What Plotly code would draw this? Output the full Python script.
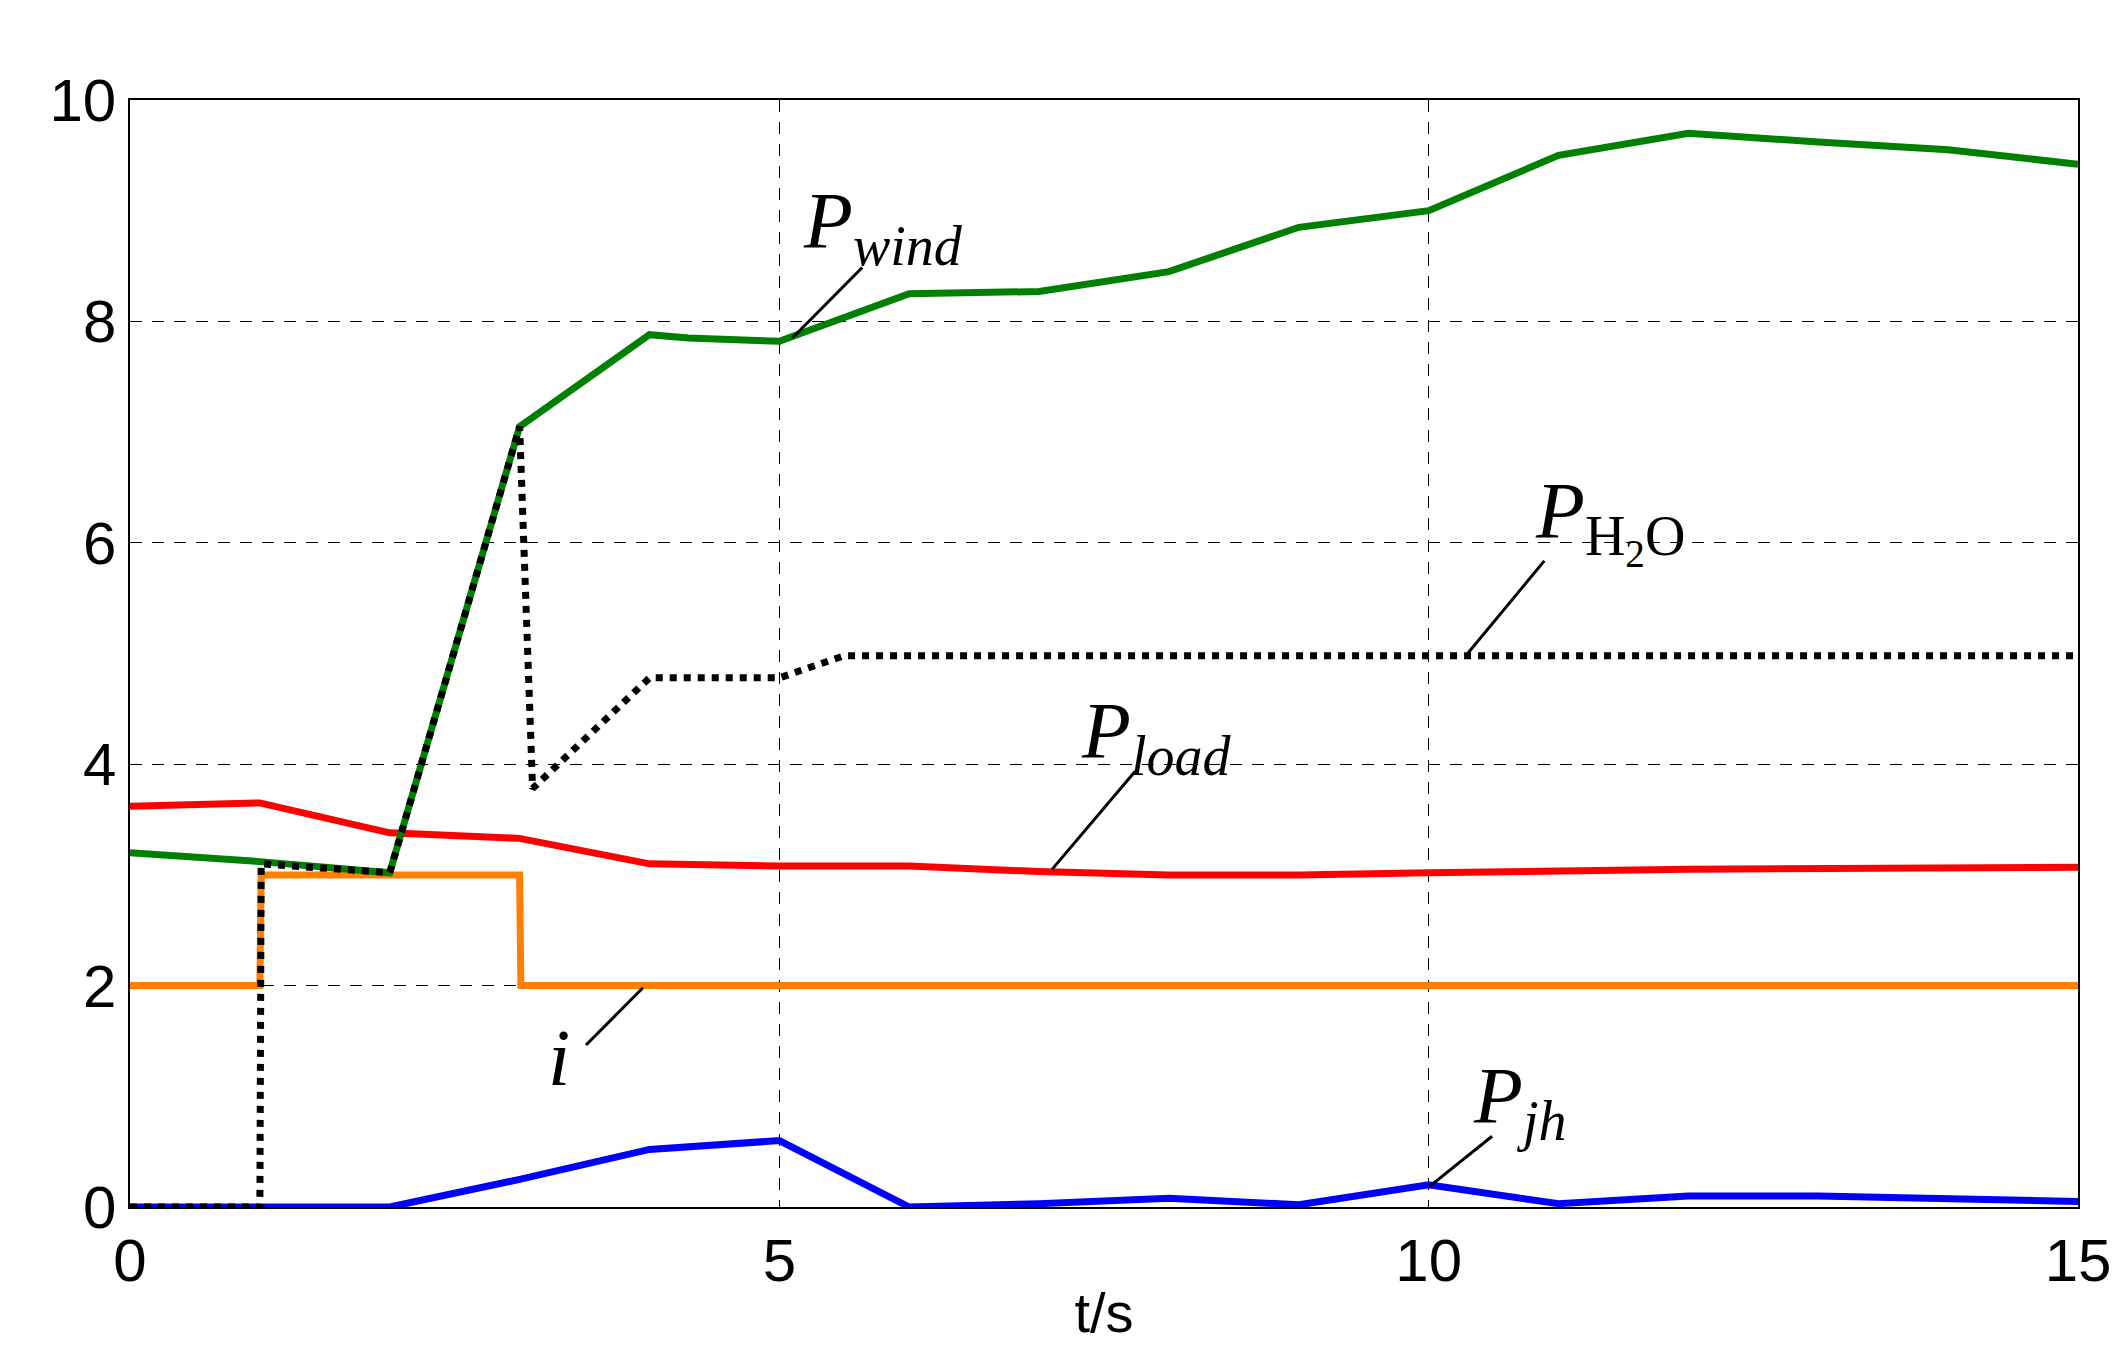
import plotly.graph_objects as go

t_wind = [0,1,2,3,4,4.3,5,6,7,8,9,10,11,12,13,14,15]
p_wind = [3.2,3.12,3.02,7.05,7.88,7.85,7.82,8.25,8.27,8.45,8.85,9.0,9.5,9.7,9.62,9.55,9.42]
t_h2o = [0,1,1.01,2,3,3.1,4,5,5.5,15]
p_h2o = [0,0,3.1,3.02,7.05,3.78,4.78,4.78,4.98,4.98]
t_load = [0,1,2,3,4,5,6,7,8,9,10,12,15]
p_load = [3.62,3.65,3.38,3.33,3.1,3.08,3.08,3.03,3.0,3.0,3.02,3.05,3.07]
t_i = [0,1,1.01,3,3.01,15]
p_i = [2,2,3,3,2,2]
t_jh = [0,2,3,4,5,6,7,8,9,10,11,12,13,14,15]
p_jh = [0,0,0.25,0.52,0.6,0,0.03,0.08,0.02,0.2,0.03,0.1,0.1,0.08,0.05]

fig = go.Figure()
fig.add_trace(go.Scatter(x=t_i, y=p_i, mode="lines", line=dict(color="#ff7f00", width=7)))
fig.add_trace(go.Scatter(x=t_load, y=p_load, mode="lines", line=dict(color="#ff0000", width=7)))
fig.add_trace(go.Scatter(x=t_jh, y=p_jh, mode="lines", line=dict(color="#0000ff", width=7)))
fig.add_trace(go.Scatter(x=t_wind, y=p_wind, mode="lines", line=dict(color="#008000", width=7)))
fig.add_trace(go.Scatter(x=t_h2o, y=p_h2o, mode="lines", line=dict(color="black", width=7, dash="dot")))

# (label text, label x, label y, line start x, line start y, line end x, line end y)
ann = [
    ("<i>P</i><sub><i>wind</i></sub>", 5.8, 8.85, 5.65, 8.5, 5.1, 7.85),
    ("<i>P</i><sub>H<sub>2</sub>O</sub>", 11.4, 6.2, 10.9, 5.85, 10.3, 5.0),
    ("<i>P</i><sub><i>load</i></sub>", 7.9, 4.25, 7.75, 3.95, 7.1, 3.05),
    ("<i>i</i>", 3.3, 1.35, 3.5, 1.45, 3.95, 1.98),
    ("<i>P</i><sub><i>jh</i></sub>", 10.7, 0.95, 10.5, 0.65, 10.0, 0.18),
]
for txt, lx, ly, sx, sy, ex, ey in ann:
    fig.add_annotation(x=ex, y=ey, ax=sx, ay=sy, axref="x", ayref="y", text="", showarrow=True,
                       arrowhead=0, arrowwidth=3, arrowcolor="black", standoff=0)
    fig.add_annotation(x=lx, y=ly, text=txt, showarrow=False,
                       font=dict(family="Liberation Serif", size=80, color="black"))

axis = dict(showline=True, linecolor="black", linewidth=1.5, mirror=True, ticks="",
            showgrid=True, gridcolor="black", griddash="12px,10px", gridwidth=1.2, zeroline=False,
            tickfont=dict(family="Liberation Sans Narrow, Liberation Sans", size=60, color="black"))
fig.update_xaxes(**axis, range=[0,15], tickvals=[0,5,10,15],
                 title=dict(text="t/s", font=dict(family="Liberation Sans Narrow, Liberation Sans", size=56, color="black"), standoff=0))
fig.update_yaxes(**axis, range=[0,10], tickvals=[0,2,4,6,8,10])
fig.update_layout(width=2124, height=1353, showlegend=False, plot_bgcolor="white", paper_bgcolor="white",
                  margin=dict(l=122, r=54, t=92, b=154))
fig.write_html("out.html")
